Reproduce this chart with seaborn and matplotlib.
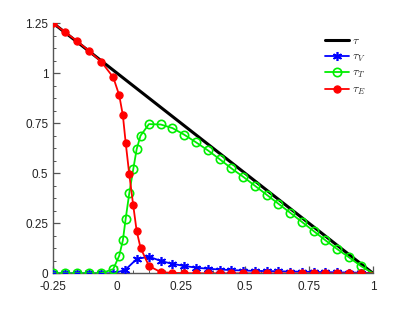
import matplotlib
matplotlib.use("Agg")
import matplotlib.pyplot as plt
import seaborn as sns
import numpy as np
import pandas as pd
from matplotlib.ticker import MultipleLocator, FuncFormatter

# ---- data ----
tau_x = [-0.25, 1.0]
tau_y = [1.25, 0.0]

x_fine = [-0.25, -0.203, -0.156, -0.109, -0.0625, -0.0156, 0.0078, 0.022, 0.033,
          0.047, 0.0625, 0.076, 0.091, 0.124, 0.170, 0.216, 0.262, 0.308, 0.354,
          0.400, 0.446, 0.492, 0.538, 0.584, 0.630, 0.676, 0.722, 0.768, 0.814,
          0.860, 0.906, 0.952, 1.0]
tauE = [1.25, 1.205, 1.16, 1.11, 1.058, 0.98, 0.89, 0.79, 0.653,
        0.495, 0.34, 0.211, 0.128, 0.0365, 0.006, 0.002, 0.001, 0.0, 0.0,
        0.0, 0.0, 0.0, 0.0, 0.0, 0.0, 0.0, 0.0, 0.0, 0.0,
        0.0, 0.0, 0.0, 0.0]
tauT = [0.0, 0.0, 0.0, 0.0, 0.0, 0.021, 0.088, 0.165, 0.273,
        0.40, 0.52, 0.621, 0.688, 0.746, 0.744, 0.726, 0.693, 0.655, 0.615,
        0.571, 0.525, 0.483, 0.438, 0.393, 0.348, 0.303, 0.257, 0.211, 0.165,
        0.121, 0.080, 0.037, 0.0]

x_coarse = [-0.25, -0.203, -0.156, -0.109, -0.0625, -0.0156, 0.031, 0.076, 0.124,
            0.170, 0.216, 0.262, 0.308, 0.354, 0.400, 0.446, 0.492, 0.538, 0.584,
            0.630, 0.676, 0.722, 0.768, 0.814, 0.860, 0.906, 0.952, 1.0]
tauV = [0.0, 0.0, 0.0, 0.0, 0.0, 0.0, 0.0165, 0.0715, 0.083,
        0.062, 0.047, 0.037, 0.028, 0.023, 0.019, 0.016, 0.014, 0.012, 0.011,
        0.010, 0.009, 0.008, 0.007, 0.006, 0.005, 0.004, 0.003, 0.0]

xticks = [-0.25, 0, 0.25, 0.5, 0.75, 1]
yticks = [0, 0.25, 0.5, 0.75, 1, 1.25]

# ---- plot ----
sns.set_style("ticks")
plt.rcParams['font.family'] = ['Liberation Sans', 'DejaVu Sans']
plt.rcParams['mathtext.fontset'] = 'cm'

fig = plt.figure(figsize=(4.12, 3.09), dpi=100)
ax = fig.add_axes([53.3/412, 35.7/309, 319.7/412, 250/309])

df_tau = pd.DataFrame({"x": tau_x, "y": tau_y})
df_V = pd.DataFrame({"x": x_coarse, "y": tauV})
df_T = pd.DataFrame({"x": x_fine, "y": tauT})
df_E = pd.DataFrame({"x": x_fine, "y": tauE})

sns.lineplot(data=df_tau, x="x", y="y", ax=ax, color="black", lw=2.2,
             label=r"$\tau$", sort=False, zorder=2)
sns.lineplot(data=df_V, x="x", y="y", ax=ax, color="#0000ff", lw=1.3,
             marker=(6, 2, 0), ms=6.5, mew=1.2, mec="#0000ff",
             markevery=list(range(len(x_coarse) - 1)),
             label=r"$\tau_V$", sort=False, zorder=3)
sns.lineplot(data=df_T, x="x", y="y", ax=ax, color="#00ee00", lw=1.3,
             marker="o", ms=6, mfc="none", mec="#00ee00", mew=1.2,
             markevery=list(range(len(x_fine) - 1)),
             label=r"$\tau_T$", sort=False, zorder=4)
sns.lineplot(data=df_E, x="x", y="y", ax=ax, color="#ff0000", lw=1.3,
             marker="o", ms=5.2, mfc="#ff0000", mec="#ff0000", mew=0.8,
             markevery=list(range(len(x_fine) - 1)),
             label=r"$\tau_E$", sort=False, zorder=5)

ax.set_xlim(-0.25, 1.0)
ax.set_ylim(0, 1.25)
ax.set_xlabel("")
ax.set_ylabel("")
ax.set_xticks(xticks)
ax.set_yticks(yticks)
fmt = FuncFormatter(lambda v, p: ("%g" % v))
ax.xaxis.set_major_formatter(fmt)
ax.yaxis.set_major_formatter(fmt)
ax.xaxis.set_minor_locator(MultipleLocator(0.0625))
ax.yaxis.set_minor_locator(MultipleLocator(0.0625))

for s in ["top", "right"]:
    ax.spines[s].set_visible(False)
for s in ["left", "bottom"]:
    ax.spines[s].set_color("#555555")
    ax.spines[s].set_linewidth(1.0)
ax.tick_params(which="both", direction="in", colors="#555555", labelcolor="#222222",
               labelsize=8.5)
ax.tick_params(which="major", length=5, width=0.9)
ax.tick_params(which="minor", length=2.5, width=0.7)
ax.tick_params(axis="x", which="major", pad=5.5)
ax.tick_params(axis="y", which="major", pad=3.5)
for lab in ax.get_xticklabels() + ax.get_yticklabels():
    lab.set_clip_on(False)

leg = ax.legend(loc="upper left", bbox_to_anchor=(0.85, 0.952), frameon=False,
                fontsize=8.5, handlelength=2.0, handletextpad=0.25,
                labelspacing=0.3, borderpad=0, borderaxespad=0)

fig.savefig("out.png", dpi=100)
